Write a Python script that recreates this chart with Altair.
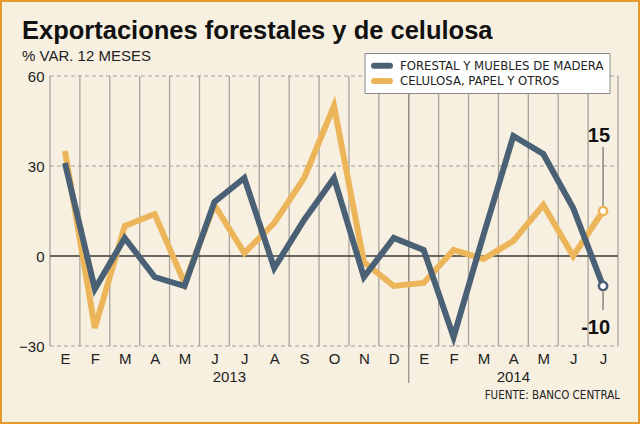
import altair as alt
import pandas as pd

# ---- data ----
months = ["E", "F", "M", "A", "M", "J", "J", "A", "S", "O", "N", "D",
          "E", "F", "M", "A", "M", "J", "J"]
years = ["2013"] * 12 + ["2014"] * 7
forestal = [31, -11, 6, -7, -10, 18, 26, -4, 12, 26, -7, 6,
            2, -27, 7, 40, 34, 16, -10]
celulosa = [35, -24, 10, 14, -9, 17, 1, 11, 26, 50, -2, -10,
            -9, 2, -1, 5, 17, 0, 15]
series_names = ["FORESTAL Y MUEBLES DE MADERA", "CELULOSA, PAPEL Y OTROS"]
series_colors = ["#4A6075", "#EDB55A"]
y_ticks = [-30, 0, 30, 60]
title_text = "Exportaciones forestales y de celulosa"
subtitle_text = "% VAR. 12 MESES"
source_text = "FUENTE: BANCO CENTRAL"

BG = "#F7F0E1"
BORDER = "#E69B2A"
W, H = 568, 270
COND = "'DejaVu Sans Condensed', 'Liberation Sans', sans-serif"

n = len(months)
rows = []
for name, vals in zip(series_names, [forestal, celulosa]):
    for i, v in enumerate(vals):
        rows.append({"idx": i, "value": v, "series": name})
df = pd.DataFrame(rows)

last = pd.DataFrame({
    "idx": [n - 1, n - 1],
    "value": [forestal[-1], celulosa[-1]],
    "series": series_names,
    "label": [str(forestal[-1]), str(celulosa[-1])],
})

bounds = pd.DataFrame({"idx": [i - 0.5 for i in range(n + 1)]})
split = pd.DataFrame({"idx": [years.index("2014") - 0.5]})
hlines = pd.DataFrame({"value": [t for t in y_ticks if t != 0]})
zero = pd.DataFrame({"value": [0]})
yr_df = pd.DataFrame({"year": years, "idx": list(range(n))})
yr_df = yr_df.groupby("year", as_index=False)["idx"].mean()
one = pd.DataFrame({"a": [0]})
leg_df = pd.DataFrame({"series": series_names, "row": list(range(len(series_names)))})

xscale = alt.Scale(domain=[-0.5, n - 0.5], nice=False, zero=False)
yscale = alt.Scale(domain=[y_ticks[0], y_ticks[-1]], nice=False, zero=False)
cscale = alt.Scale(domain=series_names, range=series_colors)

month_expr = "[" + ",".join("'%s'" % m for m in months) + "][datum.value]"

x_axis = alt.Axis(values=list(range(n)), labelExpr=month_expr, grid=False,
                  domain=False, ticks=False, labelPadding=5, title=None,
                  labelFont="Liberation Sans", labelFontSize=15,
                  labelColor="#222222", labelOverlap=False, labelBound=False,
                  labelFlush=False)
y_axis = alt.Axis(values=y_ticks, grid=False, domain=False, ticks=False,
                  labelPadding=6, title=None, labelFont="Liberation Sans",
                  labelFontSize=15, labelColor="#222222")

X = alt.X("idx:Q", scale=xscale, axis=x_axis)
Y = alt.Y("value:Q", scale=yscale, axis=y_axis)

border = alt.Chart(one).mark_rect(
    fillOpacity=0, stroke=BORDER, strokeWidth=2
).encode(x=alt.value(-49), x2=alt.value(589), y=alt.value(-75), y2=alt.value(347))

vgrid = alt.Chart(bounds).mark_rule(color="#A8A49C", strokeWidth=1.3).encode(
    x=X,
    y=alt.datum(y_ticks[-1], scale=yscale, axis=y_axis),
    y2=alt.datum(y_ticks[0]),
)
vsplit = alt.Chart(split).mark_rule(color="#8E8A82", strokeWidth=1.2).encode(
    x=X, y=alt.value(0), y2=alt.value(307),
)
hgrid = alt.Chart(hlines).mark_rule(
    color="#A0A0A0", strokeWidth=1, strokeDash=[4, 3]
).encode(y=Y, x=alt.value(0), x2=alt.value(W))
zline = alt.Chart(zero).mark_rule(color="#3A3A3A", strokeWidth=1.6).encode(
    y=Y, x=alt.value(0), x2=alt.value(W),
)

def line_for(name):
    return alt.Chart(df).transform_filter(
        alt.datum.series == name
    ).mark_line(strokeWidth=6, strokeJoin="miter", strokeCap="butt").encode(
        x=X, y=Y,
        color=alt.Color("series:N", scale=cscale, legend=None),
    )

line_c = line_for(series_names[1])
line_f = line_for(series_names[0])

top_sel = alt.datum.value >= 0
leader_top = alt.Chart(last).transform_filter(top_sel).mark_rule(
    color="#555555", strokeWidth=1, yOffset=-4, y2Offset=-64
).encode(x=X, y=Y, y2="value:Q")
leader_bot = alt.Chart(last).transform_filter(~top_sel).mark_rule(
    color="#555555", strokeWidth=1, yOffset=6, y2Offset=24
).encode(x=X, y=Y, y2="value:Q")

dots = alt.Chart(last).mark_point(
    filled=True, fill="white", size=70, strokeWidth=2.5, opacity=1
).encode(
    x=X, y=Y,
    stroke=alt.Stroke("series:N", scale=cscale, legend=None),
)

lab_top = alt.Chart(last).transform_filter(top_sel).mark_text(
    font="Liberation Sans", fontWeight="bold", fontSize=20, align="right",
    baseline="alphabetic", dx=7, dy=-69, color="#111111"
).encode(x=X, y=Y, text="label:N")
lab_bot = alt.Chart(last).transform_filter(~top_sel).mark_text(
    font="Liberation Sans", fontWeight="bold", fontSize=20, align="right",
    baseline="alphabetic", dx=7, dy=48, color="#111111"
).encode(x=X, y=Y, text="label:N")

# manual legend (box, stroke swatches, labels)
leg_box = alt.Chart(one).mark_rect(
    fill="white", stroke="#8a8a8a", strokeWidth=1
).encode(x=alt.value(315), x2=alt.value(560), y=alt.value(-22.5), y2=alt.value(17.5))
leg_sym = alt.Chart(leg_df).transform_calculate(
    ly="-10.3 + 15.3 * datum.row"
).mark_rule(strokeWidth=6, strokeCap="round").encode(
    x=alt.value(324), x2=alt.value(340),
    y=alt.Y("ly:Q", scale=None),
    color=alt.Color("series:N", scale=cscale, legend=None),
)
leg_txt = alt.Chart(leg_df).transform_calculate(
    ly="-10.3 + 15.3 * datum.row"
).mark_text(
    font=COND, fontSize=13, align="left", baseline="middle", color="#222222"
).encode(x=alt.value(350), y=alt.Y("ly:Q", scale=None), text="series:N")

year_text = alt.Chart(yr_df).mark_text(
    font="Liberation Sans", fontSize=15, align="center", baseline="alphabetic",
    color="#222222"
).encode(x=X, y=alt.value(305.5), text="year:N")

title = alt.Chart(one).mark_text(
    text=title_text, font="Liberation Sans", fontWeight="bold", fontSize=25.5,
    align="left", baseline="alphabetic", color="#111111"
).encode(x=alt.value(-28), y=alt.value(-37.5))
subtitle = alt.Chart(one).mark_text(
    text=subtitle_text, font="Liberation Sans", fontSize=15,
    align="left", baseline="alphabetic", color="#222222"
).encode(x=alt.value(-28), y=alt.value(-15))
source = alt.Chart(one).mark_text(
    text=source_text, font=COND, fontSize=11.5,
    align="right", baseline="alphabetic", color="#222222"
).encode(x=alt.value(570), y=alt.value(323))

chart = alt.layer(
    border, vgrid, vsplit, hgrid, zline, line_c, line_f,
    leader_top, leader_bot, dots, lab_top, lab_bot,
    leg_box, leg_sym, leg_txt,
    year_text, title, subtitle, source,
).properties(
    width=W, height=H,
    padding={"left": 50, "top": 76, "right": 22, "bottom": 78},
    autosize=alt.AutoSizeParams(type="none"),
    background=BG,
).configure_view(stroke=None)

chart.save("out.html", embed_options={"renderer": "svg", "actions": False})
